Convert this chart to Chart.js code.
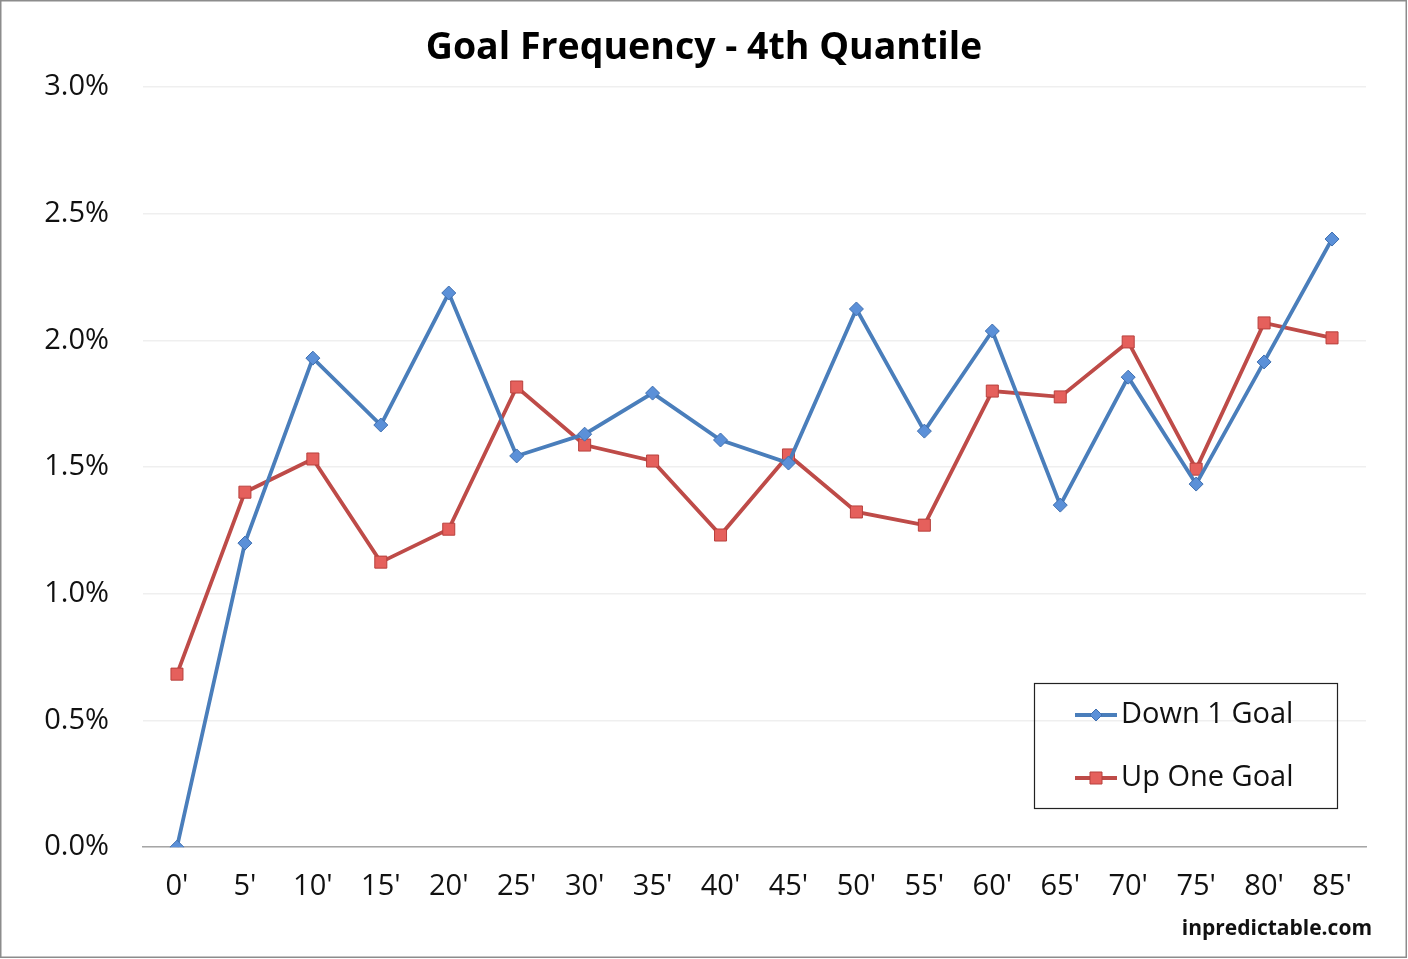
<!DOCTYPE html>
<html>
<head>
<meta charset="utf-8">
<script src="https://cdn.jsdelivr.net/npm/chart.js@4/dist/chart.umd.min.js"></script>
<style>
  html, body { margin: 0; padding: 0; background: #fff; overflow: hidden; }
  canvas { display: block; }
</style>
</head>
<body>
<canvas id="goalChart" width="1408" height="959"></canvas>
<script>
// Data
const minutes = ["0'", "5'", "10'", "15'", "20'", "25'", "30'", "35'", "40'", "45'", "50'", "55'", "60'", "65'", "70'", "75'", "80'", "85'"];
const downOneGoal = [0.000, 1.200, 1.930, 1.666, 2.187, 1.544, 1.630, 1.792, 1.607, 1.516, 2.124, 1.642, 2.037, 1.350, 1.855, 1.433, 1.915, 2.400];
const upOneGoal = [0.683, 1.401, 1.532, 1.125, 1.255, 1.816, 1.587, 1.524, 1.232, 1.548, 1.323, 1.271, 1.800, 1.777, 1.994, 1.492, 2.069, 2.010];
const seriesNames = ['Down 1 Goal', 'Up One Goal'];

// Rand + legenda + watermerk
const extras = {
    id: 'extras',
    afterDraw(chart) {
        const ctx = chart.ctx;
        ctx.save();
        // rand rond de afbeelding
        ctx.strokeStyle = '#8c8c8c';
        ctx.lineWidth = 1.5;
        ctx.strokeRect(0.75, 0.75, 1408 - 2.5, 959 - 2.5);

        // legenda
        ctx.strokeStyle = '#222';
        ctx.lineWidth = 1.2;
        ctx.strokeRect(1034.5, 683.5, 303, 125);
        ctx.font = '29px "Open Sans"';
        ctx.textBaseline = 'middle';
        ctx.textAlign = 'left';
        chart.data.datasets.forEach((ds, i) => {
            const y = 715 + i * 63;
            ctx.strokeStyle = ds.borderColor;
            ctx.lineWidth = 3.8;
            ctx.beginPath();
            ctx.moveTo(1075, y);
            ctx.lineTo(1117, y);
            ctx.stroke();
            ctx.fillStyle = ds.pointBackgroundColor;
            ctx.strokeStyle = ds.pointBorderColor;
            ctx.lineWidth = 1;
            ctx.beginPath();
            if (ds.pointStyle === 'rectRot') {
                ctx.moveTo(1096, y - 6); ctx.lineTo(1102, y); ctx.lineTo(1096, y + 6); ctx.lineTo(1090, y); ctx.closePath();
            } else {
                ctx.rect(1090, y - 6, 12, 12);
            }
            ctx.fill();
            ctx.stroke();
            ctx.fillStyle = '#111';
            ctx.fillText(ds.label, 1121, y);
        });

        // watermerk
        ctx.font = 'bold 21px "Open Sans"';
        ctx.textAlign = 'right';
        ctx.textBaseline = 'middle';
        ctx.fillStyle = '#111';
        ctx.fillText('inpredictable.com', 1372, 929);
        ctx.restore();
    }
};

const ctx = document.getElementById('goalChart').getContext('2d');
new Chart(ctx, {
    type: 'line',
    data: {
        labels: minutes,
        datasets: [
            {
                label: seriesNames[0],
                data: downOneGoal,
                borderColor: '#4a7ebb',
                borderWidth: 3.8,
                pointStyle: 'rectRot',
                pointRadius: 7,
                pointBackgroundColor: '#5b90d8',
                pointBorderColor: '#3f6fb0',
                pointBorderWidth: 1,
                tension: 0
            },
            {
                label: seriesNames[1],
                data: upOneGoal,
                borderColor: '#be4b48',
                borderWidth: 3.8,
                pointStyle: 'rect',
                pointRadius: 8.5,
                pointBackgroundColor: '#e5605c',
                pointBorderColor: '#b8403d',
                pointBorderWidth: 1,
                tension: 0
            }
        ]
    },
    options: {
        responsive: false,
        animation: false,
        devicePixelRatio: 1,
        layout: { padding: { left: 0, right: 0, top: 0, bottom: 33 } },
        plugins: {
            legend: { display: false },
            tooltip: { enabled: false },
            title: {
                display: true,
                text: 'Goal Frequency - 4th Quantile',
                color: '#000',
                font: { family: 'Open Sans', size: 37.5, weight: 'bold' },
                padding: { top: 26, bottom: 16 }
            }
        },
        scales: {
            x: {
                offset: true,
                grid: { display: false, drawTicks: false },
                border: { display: true, color: '#a6a6a6', width: 1.5 },
                ticks: {
                    color: '#111',
                    padding: 22,
                    maxRotation: 0,
                    autoSkip: false,
                    font: { family: 'Open Sans', size: 29 }
                }
            },
            y: {
                min: 0,
                max: 3,
                afterFit(scale) { scale.width = 143; },
                grid: { color: '#efefef', lineWidth: 1.5, drawTicks: false },
                border: { display: false },
                ticks: {
                    stepSize: 0.5,
                    color: '#111',
                    padding: 34,
                    font: { family: 'Open Sans', size: 29 },
                    callback: v => v.toFixed(1) + '%'
                }
            },
            // lege rechterruimte zodat de titel over de hele breedte centreert
            yRight: {
                position: 'right',
                afterFit(scale) { scale.width = 42; },
                grid: { display: false },
                border: { display: false },
                ticks: { display: false }
            }
        }
    },
    plugins: [extras]
});
</script>
</body>
</html>
